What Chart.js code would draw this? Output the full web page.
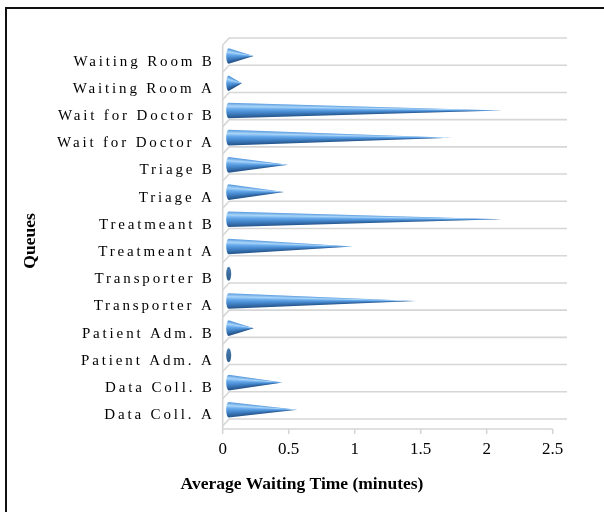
<!DOCTYPE html>
<html>
<head>
<meta charset="utf-8">
<script src="https://cdn.jsdelivr.net/npm/chart.js@4/dist/chart.umd.min.js"></script>
<style>
  html, body { margin: 0; padding: 0; background: #fff; }
  canvas { display: block; }
</style>
</head>
<body>
<canvas id="chart" width="604" height="512"></canvas>
<script>
// Queue names, listed top to bottom
const queues = [
  'Waiting Room B', 'Waiting Room A',
  'Wait for Doctor B', 'Wait for Doctor A',
  'Triage B', 'Triage A',
  'Treatmeant B', 'Treatmeant A',
  'Transporter B', 'Transporter A',
  'Patient Adm. B', 'Patient Adm. A',
  'Data Coll. B', 'Data Coll. A'
];

// Average waiting time per queue (minutes)
const waitMinutes = [
  0.19, 0.10,
  2.07, 1.69,
  0.45, 0.42,
  2.07, 0.94,
  0.00, 1.42,
  0.19, 0.00,
  0.41, 0.52
];

const valueTicks = [0, 0.5, 1, 1.5, 2, 2.5];
const xTitle = 'Average Waiting Time (minutes)';
const yTitle = 'Queues';

const SERIF = '"Liberation Serif", "Times New Roman", serif';

// 3-D look: the back wall sits up and to the right of the front plane
const BACK_DX = 6.5, BACK_DX_RIGHT = 14.3, BACK_DY = 10, SLANT_DY = 7;
const CONE_DX = 6, CONE_DY = -5.6, CONE_R = 7.8, CONE_RX = 2.5;
const GRID = '#d6d6d6';

// shading across a cone, top (0) to bottom (1)
const coneStops = [
  [0.00, '#5b9ce0'],
  [0.22, '#a9d5f8'],
  [0.42, '#64a7ea'],
  [0.68, '#4283c8'],
  [1.00, '#25548a']
];

const framePlugin = {
  id: 'frame',
  beforeDraw(chart) {
    const ctx = chart.ctx;
    ctx.save();
    ctx.fillStyle = '#fff';
    ctx.fillRect(0, 0, chart.width, chart.height);
    // outer chart border
    ctx.strokeStyle = '#111';
    ctx.lineWidth = 2;
    ctx.strokeRect(6, 8, 700, 600);
    ctx.restore();
  },
  beforeDatasetsDraw(chart) {
    const ctx = chart.ctx;
    const { left, right, top, bottom } = chart.chartArea;
    const x = chart.scales.x;
    const band = (bottom - top) / queues.length;
    ctx.save();
    ctx.strokeStyle = GRID;
    ctx.lineWidth = 1.6;
    // category separators on the back wall, with floor slant at the left
    for (let k = 0; k <= queues.length; k++) {
      const yb = top - BACK_DY + k * band;
      ctx.beginPath();
      ctx.moveTo(left, yb + SLANT_DY);
      ctx.lineTo(left + BACK_DX, yb);
      ctx.lineTo(right + BACK_DX_RIGHT, yb);
      ctx.stroke();
    }
    // left wall edge
    ctx.beginPath();
    ctx.moveTo(left, top - BACK_DY + SLANT_DY);
    ctx.lineTo(left, bottom);
    ctx.stroke();
    // value axis line and tick marks
    ctx.beginPath();
    ctx.moveTo(left, bottom);
    ctx.lineTo(right, bottom);
    valueTicks.forEach(v => {
      const px = x.getPixelForValue(v);
      ctx.moveTo(px, bottom);
      ctx.lineTo(px, bottom + 5);
    });
    ctx.stroke();
    ctx.restore();
  },
  afterDatasetsDraw(chart) {
    const ctx = chart.ctx;
    const x = chart.scales.x;
    const meta = chart.getDatasetMeta(0);
    const bx = x.getPixelForValue(0) + CONE_DX;
    meta.data.forEach((bar, i) => {
      const cy = bar.y + CONE_DY;
      const tx = bar.x + CONE_DX;
      const L = tx - bx;
      ctx.save();
      if (L < 1) {
        // zero-length cone: only the base disc shows
        const g = ctx.createLinearGradient(0, cy - CONE_R, 0, cy + CONE_R);
        g.addColorStop(0, '#4a7fb2');
        g.addColorStop(1, '#2d5b8a');
        ctx.fillStyle = g;
        ctx.beginPath();
        ctx.ellipse(bx, cy, CONE_RX, CONE_R - 0.8, 0, 0, Math.PI * 2);
        ctx.fill();
        ctx.restore();
        return;
      }
      ctx.beginPath();
      ctx.moveTo(bx, cy - CONE_R);
      ctx.lineTo(tx, cy);
      ctx.lineTo(bx, cy + CONE_R);
      ctx.ellipse(bx, cy, CONE_RX, CONE_R, 0, Math.PI / 2, Math.PI * 1.5);
      ctx.closePath();
      let fill;
      if (ctx.createConicGradient) {
        // colour stays constant along each line from the tip
        fill = ctx.createConicGradient(0, tx, cy);
        coneStops.forEach(([t, c]) => {
          const h = CONE_R * (2 * t - 1);
          const ang = Math.PI - Math.atan(h / (L + CONE_RX));
          fill.addColorStop(ang / (2 * Math.PI), c);
        });
      } else {
        fill = ctx.createLinearGradient(0, cy - CONE_R, 0, cy + CONE_R);
        coneStops.forEach(([t, c]) => fill.addColorStop(t, c));
      }
      ctx.fillStyle = fill;
      ctx.fill();
      ctx.restore();
    });
  },
  afterDraw(chart) {
    const ctx = chart.ctx;
    ctx.save();
    ctx.fillStyle = '#000';
    ctx.font = 'bold 17.5px ' + SERIF;
    ctx.textAlign = 'center';
    ctx.textBaseline = 'alphabetic';
    ctx.fillText(xTitle, 302, 489);
    ctx.translate(35, 241);
    ctx.rotate(-Math.PI / 2);
    ctx.fillText(yTitle, 0, 0);
    ctx.restore();
  }
};

// wide tracking on the queue names
const trackingPlugin = {
  id: 'tracking',
  afterLayout(chart) {
    const y = chart.scales.y;
    if (y && !y._tracked) {
      const draw = y.drawLabels;
      y.drawLabels = function (area) {
        this.ctx.save();
        this.ctx.letterSpacing = '2.85px';
        draw.call(this, area);
        this.ctx.restore();
      };
      y._tracked = true;
    }
  }
};

new Chart(document.getElementById('chart'), {
  type: 'bar',
  data: {
    labels: queues,
    datasets: [{
      label: 'Average Waiting Time',
      data: waitMinutes,
      backgroundColor: 'rgba(0,0,0,0)',
      borderWidth: 0
    }]
  },
  options: {
    indexAxis: 'y',
    responsive: false,
    animation: false,
    devicePixelRatio: 1,
    layout: { padding: { left: 0, right: 51.3, top: 48, bottom: 0 } },
    plugins: {
      legend: { display: false },
      tooltip: { enabled: false }
    },
    scales: {
      x: {
        type: 'linear',
        min: 0,
        max: 2.5,
        afterBuildTicks: s => { s.ticks = valueTicks.map(v => ({ value: v })); },
        afterFit: s => { s.height = 83; },
        grid: { display: false, drawTicks: false },
        border: { display: false },
        ticks: {
          font: { family: SERIF, size: 17 },
          color: '#000',
          padding: 10,
          maxRotation: 0,
          callback: v => String(v)
        }
      },
      y: {
        type: 'category',
        afterFit: s => { s.width = 222.7; },
        grid: { display: false, drawTicks: false },
        border: { display: false },
        ticks: {
          font: { family: SERIF, size: 15 },
          color: '#000',
          padding: 8,
          autoSkip: false
        }
      }
    }
  },
  plugins: [framePlugin, trackingPlugin]
});
</script>
</body>
</html>
